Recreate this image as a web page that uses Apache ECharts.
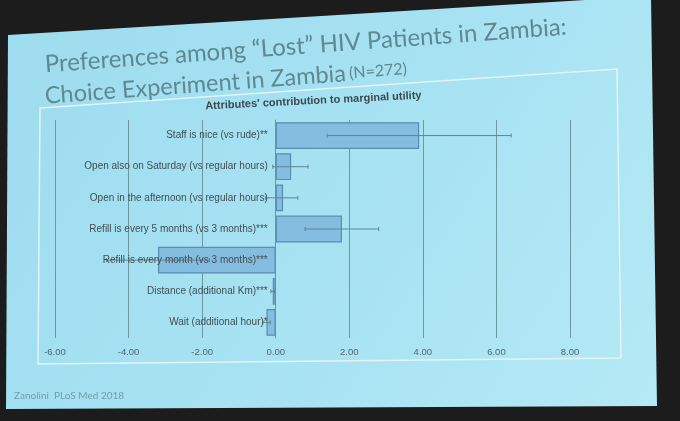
<!DOCTYPE html>
<html>
<head>
<meta charset="utf-8">
<script src="https://cdn.jsdelivr.net/npm/echarts@6/dist/echarts.min.js"></script>
<style>
html,body{margin:0;padding:0;background:#1c1c1c;}
#chart{width:680px;height:421px;}
</style>
</head>
<body>
<div id="chart"></div>
<script>
var categories = [
  'Staff is nice (vs rude)**',
  'Open also on Saturday (vs regular hours)',
  'Open in the afternoon (vs regular hours)',
  'Refill is every 5 months (vs 3 months)***',
  'Refill is every month (vs 3 months)***',
  'Distance (additional Km)***',
  'Wait (additional hour)*'
];
var values = [3.9, 0.42, 0.2, 1.8, -3.2, -0.08, -0.25];
var ciLow = [1.4, -0.08, -0.28, 0.8, -4.6, -0.13, -0.35];
var ciHigh = [6.4, 0.88, 0.6, 2.8, -1.8, -0.03, -0.15];
var tickLabels = ['-6.00', '-4.00', '-2.00', '0.00', '2.00', '4.00', '6.00', '8.00'];

var chart = echarts.init(document.getElementById('chart'));
var errData = categories.map(function (c, i) { return [i, ciLow[i], ciHigh[i]]; });
var titleColor = '#5e8892';

chart.setOption({
  animation: false,
  graphic: [
    { type: 'polygon', z: -10, silent: true,
      shape: { points: [[8, 35], [651, -4], [657, 406], [6, 409]] },
      style: { fill: new echarts.graphic.LinearGradient(0, 0, 1, 1, [
        { offset: 0, color: '#9ddcee' }, { offset: 0.6, color: '#a9e3f3' }, { offset: 1, color: '#b5e9f5' }]) } },
    { type: 'polygon', z: -9, silent: true,
      shape: { points: [[40, 108], [617, 69], [621, 358], [38, 364]] },
      style: { fill: 'none', stroke: '#e2f4f9', lineWidth: 1.5 } },
    { type: 'text', left: 44, top: 15, rotation: 0.072, z: 5,
      style: { text: 'Preferences among \u201cLost\u201d HIV Patients in Zambia:', fill: titleColor,
        font: '24px Lato' } },
    { type: 'text', left: 44, top: 57, rotation: 0.075, z: 5,
      style: { text: '{a|Choice Experiment in Zambia} {b|(N=272)}',
        rich: { a: { fontSize: 23.5, fontFamily: 'Lato', fill: titleColor },
                b: { fontSize: 16, fontFamily: 'Lato', fill: titleColor } } } },
    { type: 'text', left: 205, top: 90, rotation: 0.05, z: 5,
      style: { text: "Attributes' contribution to marginal utility", fill: '#3b4a50',
        font: 'bold 11px "Liberation Sans"' } },
    { type: 'text', left: 14, top: 391, z: 5,
      style: { text: 'Zanolini  PLoS Med 2018', fill: '#6d9fae', font: '10px Lato' } }
  ],
  grid: { left: 55, right: 110, top: 120, bottom: 83, containLabel: false, outerBoundsMode: 'none' },
  xAxis: {
    type: 'value', min: -6, max: 8, interval: 2,
    axisLine: { show: false }, axisTick: { show: false },
    splitLine: { show: true, lineStyle: { color: '#6f97a3', width: 1 } },
    axisLabel: { margin: 9, color: '#4f666e', fontSize: 9.5, fontFamily: 'Liberation Sans',
      formatter: function (v) { return tickLabels[(v + 6) / 2]; } }
  },
  yAxis: {
    type: 'category', data: categories, inverse: true,
    axisLine: { show: true, onZero: true, lineStyle: { color: '#6f97a3', width: 1 } },
    axisTick: { show: false },
    axisLabel: { show: false }
  },
  series: [
    { type: 'bar', data: values, barWidth: '86%', z: 2,
      itemStyle: { color: '#84bddf', borderColor: '#5a8cad', borderWidth: 1.2 } },
    { type: 'custom', data: errData, z: 4, clip: false,
      encode: { x: [1, 2], y: 0 },
      renderItem: function (params, api) {
        var idx = api.value(0);
        var p1 = api.coord([api.value(1), idx]);
        var p2 = api.coord([api.value(2), idx]);
        var p0 = api.coord([0, idx]);
        var st = { stroke: '#5f8490', lineWidth: 1 };
        return { type: 'group', children: [
          { type: 'line', shape: { x1: p1[0], y1: p1[1], x2: p2[0], y2: p2[1] }, style: st },
          { type: 'line', shape: { x1: p1[0], y1: p1[1] - 2, x2: p1[0], y2: p1[1] + 2 }, style: st },
          { type: 'line', shape: { x1: p2[0], y1: p2[1] - 2, x2: p2[0], y2: p2[1] + 2 }, style: st },
          { type: 'text', x: p0[0] - 8, y: p0[1], z2: 20,
            style: { text: categories[idx], fill: '#404e54', font: '10px "Liberation Sans"',
              align: 'right', verticalAlign: 'middle' } }
        ] };
      } }
  ]
});
</script>
</body>
</html>
